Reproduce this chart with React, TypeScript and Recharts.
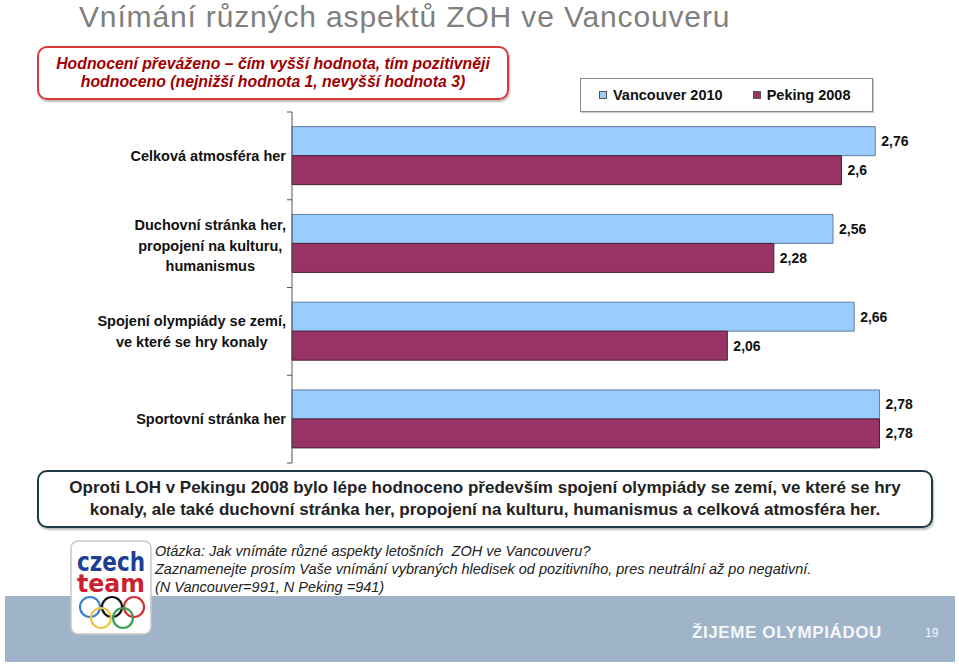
import { BarChart, Bar, XAxis, YAxis, Legend, LabelList } from 'recharts';

const categories = [
  'Celková atmosféra her',
  'Duchovní stránka her,\npropojení na kulturu,\nhumanismus',
  'Spojení olympiády se zemí,\nve které se hry konaly',
  'Sportovní stránka her',
];
const vancouver = [2.76, 2.56, 2.66, 2.78];
const peking = [2.6, 2.28, 2.06, 2.78];
const seriesNames = ['Vancouver 2010', 'Peking 2008'];

const data = categories.map((name, i) => ({ name, vancouver: vancouver[i], peking: peking[i] }));

const FONT = '"Liberation Sans", Arial, sans-serif';
const AXIS_X = 292;
const PLOT_TOP = 112;
const PLOT_BOTTOM = 463;
const BAND = (PLOT_BOTTOM - PLOT_TOP) / categories.length;
const LABEL_RIGHT = 286;
const LINE_H = 20.5;
const TICK_FONT = `bold 14.5px ${FONT}`;

const ctx = typeof document !== 'undefined' ? document.createElement('canvas').getContext('2d') : null;
function textWidth(s: string) {
  if (!ctx) return s.length * 8;
  ctx.font = TICK_FONT;
  return ctx.measureText(s).width;
}

function CategoryTick(props: any) {
  const { y, payload, index } = props;
  const lines = String(payload.value).split('\n');
  const maxW = Math.max(...lines.map(textWidth));
  const cx = LABEL_RIGHT - maxW / 2;
  const top = y - ((lines.length - 1) * LINE_H) / 2 + (lines.length > 2 ? 2 : 0);
  return (
    <g>
      <line x1={AXIS_X - 5} x2={AXIS_X} y1={y - BAND / 2} y2={y - BAND / 2} stroke="#555" />
      {index === categories.length - 1 && (
        <line x1={AXIS_X - 5} x2={AXIS_X} y1={y + BAND / 2} y2={y + BAND / 2} stroke="#555" />
      )}
      <text textAnchor="middle" fontFamily={FONT} fontWeight="bold" fontSize={14.5} fill="#111">
        {lines.map((l, i) => (
          <tspan key={i} x={cx} y={top + i * LINE_H} dy="0.35em">
            {l}
          </tspan>
        ))}
      </text>
    </g>
  );
}

function LegendBox(props: any) {
  const items = [...(props.payload || [])].sort(
    (a: any, b: any) => seriesNames.indexOf(a.value) - seriesNames.indexOf(b.value)
  );
  return (
    <div
      style={{
        width: 291,
        height: 32,
        border: '1px solid #8a8a8a',
        boxShadow: '1px 1px 1px #ccc',
        display: 'flex',
        alignItems: 'center',
        fontFamily: FONT,
        fontWeight: 'bold',
        fontSize: 14.5,
        color: '#111',
        boxSizing: 'content-box',
      }}
    >
      {items.map((it: any, i: number) => (
        <div key={i} style={{ display: 'flex', alignItems: 'center', marginLeft: i === 0 ? 18 : 30 }}>
          <span
            style={{
              width: 6,
              height: 6,
              background: it.color,
              border: '1px solid #555',
              marginRight: 6,
              display: 'inline-block',
            }}
          />
          {it.value}
        </div>
      ))}
    </div>
  );
}

const fmt = (v: any) => String(v).replace('.', ',');

export default function App() {
  return (
    <div
      style={{
        position: 'absolute',
        left: 0,
        top: 0,
        width: 959,
        height: 665,
        background: '#fff',
        overflow: 'hidden',
        fontFamily: FONT,
      }}
    >
      <div
        style={{
          position: 'absolute',
          left: 79,
          top: 0,
          fontSize: 30,
          lineHeight: '34px',
          letterSpacing: 0.85,
          color: '#7f7f7f',
          whiteSpace: 'nowrap',
        }}
      >
        Vnímání různých aspektů ZOH ve Vancouveru
      </div>

      <div
        style={{
          position: 'absolute',
          left: 37,
          top: 46,
          width: 468,
          height: 50,
          border: '2.5px solid #d83a3a',
          borderRadius: 10,
          boxShadow: '1px 2px 2px #bbb',
          color: '#a00000',
          fontWeight: 'bold',
          fontStyle: 'italic',
          fontSize: 15.8,
          lineHeight: '18px',
          textAlign: 'center',
          whiteSpace: 'nowrap',
          display: 'flex',
          flexDirection: 'column',
          justifyContent: 'center',
        }}
      >
        <div>Hodnocení převáženo – čím vyšší hodnota, tím pozitivněji</div>
        <div>hodnoceno (nejnižší hodnota 1, nevyšší hodnota 3)</div>
      </div>

      <div style={{ position: 'absolute', left: 0, top: 0 }}>
        <BarChart
          width={959}
          height={665}
          data={data}
          layout="vertical"
          margin={{ top: PLOT_TOP, bottom: 665 - PLOT_BOTTOM, left: 42, right: 33 }}
          barCategoryGap="16.7%"
          barGap={0}
        >
          <XAxis type="number" domain={[0, 3]} hide />
          <YAxis
            type="category"
            dataKey="name"
            width={250}
            axisLine={{ stroke: '#555' }}
            tickLine={false}
            tick={<CategoryTick />}
            interval={0}
          />
          <Legend
            layout="horizontal"
            verticalAlign="middle"
            align="center"
            wrapperStyle={{ left: 580, top: 78, width: 293, height: 34 }}
            content={<LegendBox />}
          />
          <Bar dataKey="vancouver" name={seriesNames[0]} fill="#99ccff" stroke="#667f9f" strokeWidth={1} isAnimationActive={false}>
            <LabelList dataKey="vancouver" position="right" offset={6} formatter={fmt} fill="#111" fontWeight="bold" fontSize={14} fontFamily={FONT} />
          </Bar>
          <Bar dataKey="peking" name={seriesNames[1]} fill="#993366" stroke="#4a2036" strokeWidth={1} isAnimationActive={false}>
            <LabelList dataKey="peking" position="right" offset={6} formatter={fmt} fill="#111" fontWeight="bold" fontSize={14} fontFamily={FONT} />
          </Bar>
        </BarChart>
      </div>

      <div
        style={{
          position: 'absolute',
          left: 37,
          top: 470,
          width: 892,
          height: 54,
          border: '2px solid #1f3a44',
          borderRadius: 10,
          boxShadow: '1px 2px 2px #bbb',
          color: '#222',
          fontWeight: 'bold',
          fontSize: 17,
          lineHeight: '22px',
          textAlign: 'center',
          whiteSpace: 'nowrap',
          display: 'flex',
          flexDirection: 'column',
          justifyContent: 'center',
        }}
      >
        <div>Oproti LOH v Pekingu 2008 bylo lépe hodnoceno především spojení olympiády se zemí, ve které se hry</div>
        <div>konaly, ale také duchovní stránka her, propojení na kulturu, humanismus a celková atmosféra her.</div>
      </div>

      <div style={{ position: 'absolute', left: 5, top: 596, width: 950, height: 66, background: '#a0b4c9' }} />
      <div
        style={{
          position: 'absolute',
          left: 692,
          top: 623,
          fontSize: 17,
          fontWeight: 'bold',
          color: '#f4f6f9',
          letterSpacing: 0.6,
          whiteSpace: 'nowrap',
        }}
      >
        ŽIJEME OLYMPIÁDOU
      </div>
      <div style={{ position: 'absolute', left: 925, top: 626, fontSize: 12, color: '#f4f6f9' }}>19</div>

      <div
        style={{
          position: 'absolute',
          left: 155,
          top: 542,
          fontSize: 14.5,
          fontStyle: 'italic',
          color: '#222',
          lineHeight: '18px',
          whiteSpace: 'nowrap',
        }}
      >
        <div>Otázka: Jak vnímáte různé aspekty letošních&nbsp; ZOH ve Vancouveru?</div>
        <div>Zaznamenejte prosím Vaše vnímání vybraných hledisek od pozitivního, pres neutrální až po negativní.</div>
        <div>(N Vancouver=991, N Peking =941)</div>
      </div>

      <svg style={{ position: 'absolute', left: 68, top: 536, overflow: 'visible' }} width={88} height={102}>
        <rect x={3} y={5} width={80} height={93} rx={7} fill="#fff" stroke="#c8c8c8" strokeWidth={1.5} />
        <text x={9} y={35} fontFamily='"DejaVu Sans Condensed", "DejaVu Sans", sans-serif' fontWeight="bold" fontSize={27} fill="#1c3f94" textLength={68} lengthAdjust="spacingAndGlyphs">
          czech
        </text>
        <text x={9} y={56} fontFamily='"DejaVu Sans Condensed", "DejaVu Sans", sans-serif' fontWeight="bold" fontSize={25} fill="#cc1f2f" textLength={68} lengthAdjust="spacingAndGlyphs">
          team
        </text>
        <circle cx={22} cy={71} r={10} fill="none" stroke="#3a7fd0" strokeWidth={2.2} />
        <circle cx={44} cy={71} r={10} fill="none" stroke="#111" strokeWidth={2.2} />
        <circle cx={66} cy={71} r={10} fill="none" stroke="#d0303a" strokeWidth={2.2} />
        <circle cx={33} cy={82} r={10} fill="none" stroke="#e8c84a" strokeWidth={2.2} />
        <circle cx={55} cy={82} r={10} fill="none" stroke="#3aa050" strokeWidth={2.2} />
      </svg>
    </div>
  );
}
